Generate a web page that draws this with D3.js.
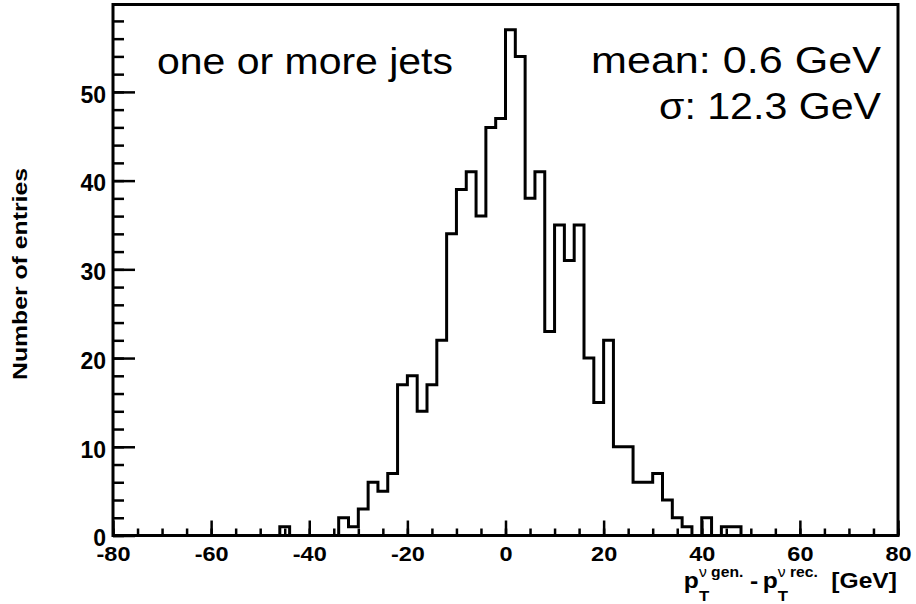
<!DOCTYPE html>
<html>
<head>
<meta charset="utf-8">
<script src="https://cdn.jsdelivr.net/npm/d3@7"></script>
<style>
body { margin: 0; background: #fff; }
text { font-family: "Liberation Sans", Arial, Helvetica, sans-serif; }
</style>
</head>
<body>
<div id="chart"></div>
<script>
// histogram: 80 bins of 2 GeV from -80 to 80
var xMin = -80, xMax = 80, binWidth = 2;
var counts = [
  0, 0, 0, 0, 0, 0, 0, 0, 0, 0,      // -80 .. -62
  0, 0, 0, 0, 0, 0, 0, 1, 0, 0,      // -60 .. -42
  0, 0, 0, 2, 1, 3, 6, 5, 7, 17,     // -40 .. -22
  18, 14, 17, 22, 34, 39, 41, 36, 46, 47, // -20 .. -2
  57, 54, 38, 41, 23, 35, 31, 35, 20, 15, // 0 .. 18
  22, 10, 10, 6, 6, 7, 4, 2, 1, 0,   // 20 .. 38
  2, 0, 1, 1, 0, 0, 0, 0, 0, 0,      // 40 .. 58
  0, 0, 0, 0, 0, 0, 0, 0, 0, 0       // 60 .. 78
];
var yMax = 59.85;
var yMajor = [0, 10, 20, 30, 40, 50];
var xMajor = [-80, -60, -40, -20, 0, 20, 40, 60, 80];
var labelLeft = "one or more jets";
var statLines = ["mean: 0.6 GeV", "\u03c3: 12.3 GeV"];
var yTitle = "Number of entries";

const W = 916, H = 604;
const padL = 113, padR = 898, padT = 4.5, padB = 535.5;

const svg = d3.select("#chart").append("svg")
    .attr("width", W).attr("height", H);

const x = d3.scaleLinear().domain([xMin, xMax]).range([padL, padR]);
const y = d3.scaleLinear().domain([0, yMax]).range([padB, padT]);

// histogram outline
var pts = counts.map(function(c, i) { return [xMin + i * binWidth, c]; });
pts.push([xMax, counts[counts.length - 1]]);

const line = d3.line()
    .x(function(d) { return x(d[0]); })
    .y(function(d) { return y(d[1]); })
    .curve(d3.curveStepAfter);

svg.append("path")
    .datum(pts)
    .attr("d", line)
    .attr("fill", "none")
    .attr("stroke", "#000")
    .attr("stroke-width", 3)
    .attr("stroke-linejoin", "miter");

// axes
var yMinor = d3.range(0, yMax, 2);
var xMinor = d3.range(xMin, xMax + 1, 5);
var plain = function(d) { return String(d); }; // hyphen minus like ROOT

svg.append("g")
    .attr("transform", "translate(" + padL + ",0)")
    .call(d3.axisLeft(y).tickValues(yMinor).tickSize(-11).tickFormat(""))
    .call(function(g) { g.select(".domain").remove(); });

var yAx = svg.append("g")
    .attr("transform", "translate(" + padL + ",0)")
    .call(d3.axisLeft(y).tickValues(yMajor).tickSize(-22).tickPadding(7).tickFormat(plain));
yAx.select(".domain").remove();

svg.append("g")
    .attr("transform", "translate(0," + padB + ")")
    .call(d3.axisBottom(x).tickValues(xMinor).tickSize(-7).tickFormat(""))
    .call(function(g) { g.select(".domain").remove(); });

var xAx = svg.append("g")
    .attr("transform", "translate(0," + padB + ")")
    .call(d3.axisBottom(x).tickValues(xMajor).tickSize(-15).tickPadding(10).tickFormat(plain));
xAx.select(".domain").remove();

svg.selectAll(".tick line").attr("stroke", "#000").attr("stroke-width", 2.5);

yAx.selectAll(".tick text")
    .attr("font-size", 23).attr("font-weight", "bold").attr("fill", "#000")
    .attr("dy", "0.45em");

xAx.selectAll(".tick text")
    .attr("font-size", 21).attr("font-weight", "bold").attr("fill", "#000")
    .attr("dy", "0.72em")
    .attr("transform", "scale(1.12,1)");

// frame
svg.append("rect")
    .attr("x", padL).attr("y", padT)
    .attr("width", padR - padL).attr("height", padB - padT)
    .attr("fill", "none").attr("stroke", "#000").attr("stroke-width", 3);

// big labels, widths pinned to the picture
function fitted(str, tx, ty, size, len, anchor) {
  return svg.append("text")
      .attr("x", tx).attr("y", ty)
      .attr("font-size", size)
      .attr("text-anchor", anchor)
      .attr("textLength", len)
      .attr("lengthAdjust", "spacingAndGlyphs")
      .text(str);
}

fitted(labelLeft, 157, 74, 37, 296, "start");
fitted(statLines[0], 881, 73, 37, 290, "end");
fitted(statLines[1], 881, 119, 37, 222, "end");

svg.append("text")
    .attr("transform", "translate(27,274) rotate(-90) scale(1.18,1)")
    .attr("font-size", 21)
    .attr("font-weight", "bold")
    .attr("text-anchor", "middle")
    .text(yTitle);

// x title: p_T^{nu gen.} - p_T^{nu rec.} [GeV], right aligned at frame edge
var xt = svg.append("g").attr("transform", "translate(897,588) scale(1.12,1)");
var pieces = [
  {parts: [["p", "bold"]], s: 22, dy: 0},
  {stack: [{parts: [["T", "bold"]], s: 15, dy: 13},
           {parts: [["\u03bd", "normal"], [" gen.", "bold"]], s: 14, dy: -11}]},
  {parts: [["-", "bold"]], s: 22, dy: 0, gap: 5, after: 4},
  {parts: [["p", "bold"]], s: 22, dy: 0},
  {stack: [{parts: [["T", "bold"]], s: 15, dy: 13},
           {parts: [["\u03bd", "normal"], [" rec.", "bold"]], s: 14, dy: -11}]},
  {parts: [["[GeV]", "bold"]], s: 22, dy: 0, gap: 11}
];
var cursor = 0, made = [];
pieces.forEach(function(p) {
  var items = p.stack || [p];
  cursor += p.gap || 0;
  var w = 0;
  items.forEach(function(it) {
    var el = xt.append("text")
        .attr("x", cursor).attr("y", it.dy)
        .attr("font-size", it.s)
        .style("white-space", "pre");
    it.parts.forEach(function(pt) {
      el.append("tspan").attr("font-weight", pt[1]).text(pt[0]);
    });
    w = Math.max(w, el.node().getComputedTextLength());
    made.push(el);
  });
  cursor += w + (p.after || 0) + (p.stack ? 1 : 0);
});
made.forEach(function(el) { el.attr("x", +el.attr("x") - cursor); });
</script>
</body>
</html>
